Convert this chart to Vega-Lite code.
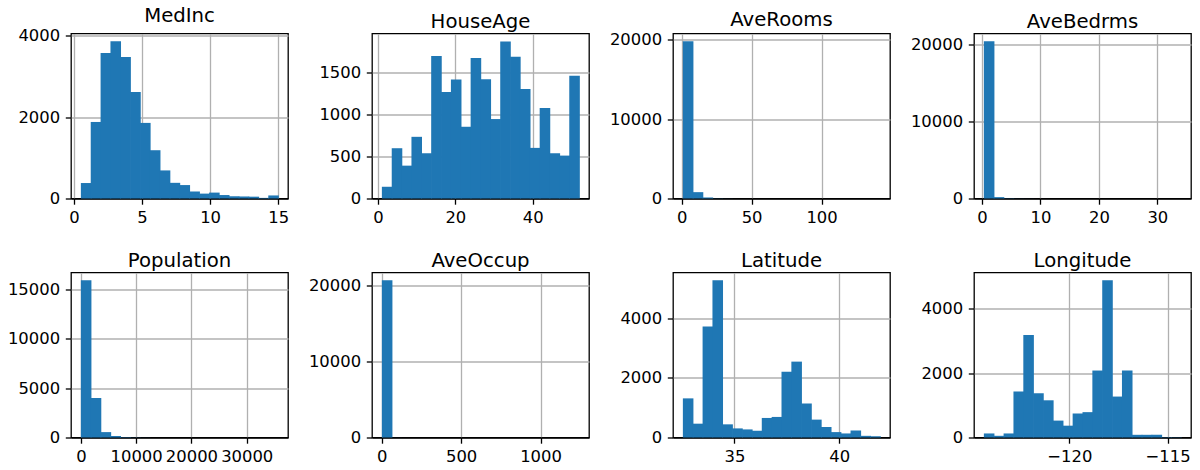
{
  "$schema": "https://vega.github.io/schema/vega-lite/v6.json",
  "padding": {"left": 6, "top": 5.5, "right": 0, "bottom": 0},
  "background": "white",
  "columns": 4,
  "spacing": {"row": 74, "column": 84},
  "bounds": "flush",
  "align": "all",
  "datasets": {
    "MedInc": [
      {"start": 0.4999, "end": 1.2249, "count": 380},
      {"start": 1.2249, "end": 1.9499, "count": 1880},
      {"start": 1.9499, "end": 2.6749, "count": 3575},
      {"start": 2.6749, "end": 3.3999, "count": 3860},
      {"start": 3.3999, "end": 4.1249, "count": 3477},
      {"start": 4.1249, "end": 4.85, "count": 2618},
      {"start": 4.85, "end": 5.575, "count": 1857},
      {"start": 5.575, "end": 6.3, "count": 1186},
      {"start": 6.3, "end": 7.025, "count": 690},
      {"start": 7.025, "end": 7.75, "count": 385},
      {"start": 7.75, "end": 8.475, "count": 330},
      {"start": 8.475, "end": 9.2, "count": 175},
      {"start": 9.2, "end": 9.925, "count": 120},
      {"start": 9.925, "end": 10.6501, "count": 145},
      {"start": 10.6501, "end": 11.3751, "count": 85},
      {"start": 11.3751, "end": 12.1001, "count": 55},
      {"start": 12.1001, "end": 12.8251, "count": 50},
      {"start": 12.8251, "end": 13.5501, "count": 45},
      {"start": 13.5501, "end": 14.2751, "count": 15},
      {"start": 14.2751, "end": 15.0001, "count": 75}
    ],
    "HouseAge": [
      {"start": 1, "end": 3.55, "count": 140},
      {"start": 3.55, "end": 6.1, "count": 600},
      {"start": 6.1, "end": 8.65, "count": 392},
      {"start": 8.65, "end": 11.2, "count": 736},
      {"start": 11.2, "end": 13.75, "count": 540},
      {"start": 13.75, "end": 16.3, "count": 1700},
      {"start": 16.3, "end": 18.85, "count": 1272},
      {"start": 18.85, "end": 21.4, "count": 1420},
      {"start": 21.4, "end": 23.95, "count": 856},
      {"start": 23.95, "end": 26.5, "count": 1676},
      {"start": 26.5, "end": 29.05, "count": 1424},
      {"start": 29.05, "end": 31.6, "count": 948},
      {"start": 31.6, "end": 34.15, "count": 1875},
      {"start": 34.15, "end": 36.7, "count": 1692},
      {"start": 36.7, "end": 39.25, "count": 1308},
      {"start": 39.25, "end": 41.8, "count": 604},
      {"start": 41.8, "end": 44.35, "count": 1080},
      {"start": 44.35, "end": 46.9, "count": 540},
      {"start": 46.9, "end": 49.45, "count": 512},
      {"start": 49.45, "end": 52, "count": 1464}
    ],
    "AveRooms": [
      {"start": 0.8462, "end": 7.8993, "count": 19800},
      {"start": 7.8993, "end": 14.9524, "count": 800},
      {"start": 14.9524, "end": 22.0056, "count": 130},
      {"start": 22.0056, "end": 29.0587, "count": 20},
      {"start": 29.0587, "end": 36.1119, "count": 8},
      {"start": 36.1119, "end": 43.165, "count": 4},
      {"start": 43.165, "end": 50.2182, "count": 3},
      {"start": 50.2182, "end": 57.2713, "count": 2},
      {"start": 57.2713, "end": 64.3245, "count": 1},
      {"start": 64.3245, "end": 71.3776, "count": 1},
      {"start": 71.3776, "end": 78.4308, "count": 0},
      {"start": 78.4308, "end": 85.4839, "count": 0},
      {"start": 85.4839, "end": 92.5371, "count": 0},
      {"start": 92.5371, "end": 99.5902, "count": 0},
      {"start": 99.5902, "end": 106.6434, "count": 1},
      {"start": 106.6434, "end": 113.6965, "count": 0},
      {"start": 113.6965, "end": 120.7497, "count": 0},
      {"start": 120.7497, "end": 127.8028, "count": 0},
      {"start": 127.8028, "end": 134.856, "count": 0},
      {"start": 134.856, "end": 141.9091, "count": 1}
    ],
    "AveBedrms": [
      {"start": 0.3333, "end": 2.02, "count": 20450},
      {"start": 2.02, "end": 3.7067, "count": 180},
      {"start": 3.7067, "end": 5.3933, "count": 30},
      {"start": 5.3933, "end": 7.08, "count": 10},
      {"start": 7.08, "end": 8.7667, "count": 5},
      {"start": 8.7667, "end": 10.4533, "count": 3},
      {"start": 10.4533, "end": 12.14, "count": 2},
      {"start": 12.14, "end": 13.8267, "count": 1},
      {"start": 13.8267, "end": 15.5133, "count": 1},
      {"start": 15.5133, "end": 17.2, "count": 0},
      {"start": 17.2, "end": 18.8867, "count": 1},
      {"start": 18.8867, "end": 20.5733, "count": 0},
      {"start": 20.5733, "end": 22.26, "count": 0},
      {"start": 22.26, "end": 23.9467, "count": 0},
      {"start": 23.9467, "end": 25.6333, "count": 0},
      {"start": 25.6333, "end": 27.32, "count": 1},
      {"start": 27.32, "end": 29.0067, "count": 0},
      {"start": 29.0067, "end": 30.6933, "count": 0},
      {"start": 30.6933, "end": 32.38, "count": 0},
      {"start": 32.38, "end": 34.0667, "count": 1}
    ],
    "Population": [
      {"start": 3, "end": 1786.95, "count": 15880},
      {"start": 1786.95, "end": 3570.9, "count": 3990},
      {"start": 3570.9, "end": 5354.85, "count": 545},
      {"start": 5354.85, "end": 7138.8, "count": 150},
      {"start": 7138.8, "end": 8922.75, "count": 40},
      {"start": 8922.75, "end": 10706.7, "count": 15},
      {"start": 10706.7, "end": 12490.65, "count": 6},
      {"start": 12490.65, "end": 14274.6, "count": 3},
      {"start": 14274.6, "end": 16058.55, "count": 2},
      {"start": 16058.55, "end": 17842.5, "count": 1},
      {"start": 17842.5, "end": 19626.45, "count": 0},
      {"start": 19626.45, "end": 21410.4, "count": 0},
      {"start": 21410.4, "end": 23194.35, "count": 0},
      {"start": 23194.35, "end": 24978.3, "count": 0},
      {"start": 24978.3, "end": 26762.25, "count": 1},
      {"start": 26762.25, "end": 28546.2, "count": 1},
      {"start": 28546.2, "end": 30330.15, "count": 0},
      {"start": 30330.15, "end": 32114.1, "count": 0},
      {"start": 32114.1, "end": 33898.05, "count": 0},
      {"start": 33898.05, "end": 35682, "count": 1}
    ],
    "AveOccup": [
      {"start": 0.6923, "end": 62.8244, "count": 20630},
      {"start": 62.8244, "end": 124.9564, "count": 5},
      {"start": 124.9564, "end": 187.0885, "count": 2},
      {"start": 187.0885, "end": 249.2205, "count": 0},
      {"start": 249.2205, "end": 311.3526, "count": 0},
      {"start": 311.3526, "end": 373.4846, "count": 0},
      {"start": 373.4846, "end": 435.6167, "count": 0},
      {"start": 435.6167, "end": 497.7487, "count": 0},
      {"start": 497.7487, "end": 559.8808, "count": 1},
      {"start": 559.8808, "end": 622.0128, "count": 1},
      {"start": 622.0128, "end": 684.1449, "count": 0},
      {"start": 684.1449, "end": 746.2769, "count": 0},
      {"start": 746.2769, "end": 808.409, "count": 0},
      {"start": 808.409, "end": 870.541, "count": 0},
      {"start": 870.541, "end": 932.6731, "count": 0},
      {"start": 932.6731, "end": 994.8051, "count": 0},
      {"start": 994.8051, "end": 1056.9372, "count": 0},
      {"start": 1056.9372, "end": 1119.0692, "count": 0},
      {"start": 1119.0692, "end": 1181.2013, "count": 0},
      {"start": 1181.2013, "end": 1243.3333, "count": 1}
    ],
    "Latitude": [
      {"start": 32.54, "end": 33.0105, "count": 1311},
      {"start": 33.0105, "end": 33.481, "count": 463},
      {"start": 33.481, "end": 33.9515, "count": 3718},
      {"start": 33.9515, "end": 34.422, "count": 5265},
      {"start": 34.422, "end": 34.8925, "count": 441},
      {"start": 34.8925, "end": 35.363, "count": 305},
      {"start": 35.363, "end": 35.8335, "count": 271},
      {"start": 35.8335, "end": 36.304, "count": 226},
      {"start": 36.304, "end": 36.7745, "count": 655},
      {"start": 36.7745, "end": 37.245, "count": 689},
      {"start": 37.245, "end": 37.7155, "count": 2203},
      {"start": 37.7155, "end": 38.186, "count": 2542},
      {"start": 38.186, "end": 38.6565, "count": 1141},
      {"start": 38.6565, "end": 39.127, "count": 599},
      {"start": 39.127, "end": 39.5975, "count": 350},
      {"start": 39.5975, "end": 40.068, "count": 181},
      {"start": 40.068, "end": 40.5385, "count": 136},
      {"start": 40.5385, "end": 41.009, "count": 237},
      {"start": 41.009, "end": 41.4795, "count": 56},
      {"start": 41.4795, "end": 41.95, "count": 45}
    ],
    "Longitude": [
      {"start": -124.35, "end": -123.848, "count": 126},
      {"start": -123.848, "end": -123.346, "count": 53},
      {"start": -123.346, "end": -122.844, "count": 126},
      {"start": -122.844, "end": -122.342, "count": 1432},
      {"start": -122.342, "end": -121.84, "count": 3189},
      {"start": -121.84, "end": -121.338, "count": 1379},
      {"start": -121.338, "end": -120.836, "count": 1158},
      {"start": -120.836, "end": -120.334, "count": 526},
      {"start": -120.334, "end": -119.832, "count": 368},
      {"start": -119.832, "end": -119.33, "count": 747},
      {"start": -119.33, "end": -118.828, "count": 789},
      {"start": -118.828, "end": -118.326, "count": 2084},
      {"start": -118.326, "end": -117.824, "count": 4890},
      {"start": -117.824, "end": -117.322, "count": 1274},
      {"start": -117.322, "end": -116.82, "count": 2084},
      {"start": -116.82, "end": -116.318, "count": 84},
      {"start": -116.318, "end": -115.816, "count": 84},
      {"start": -115.816, "end": -115.314, "count": 84},
      {"start": -115.314, "end": -114.812, "count": 10},
      {"start": -114.812, "end": -114.31, "count": 4}
    ]
  },
  "concat": [
    {
      "title": "MedInc", "width": 217, "height": 165,
      "data": {"name": "MedInc"},
      "mark": {"type": "bar", "orient": "vertical", "x2Offset": 0.7},
      "encoding": {
        "x": {"field": "start", "type": "quantitative", "scale": {"domain": [-0.2251, 15.7251], "nice": false, "zero": false, "padding": 0}, "axis": {"values": [0, 5, 10, 15], "format": "d", "title": null}},
        "x2": {"field": "end"},
        "y": {"field": "count", "type": "quantitative", "scale": {"domain": [0, 4053], "nice": false, "padding": 0}, "axis": {"values": [0, 2000, 4000], "format": "d", "title": null, "gridColor": {"condition": {"test": "datum.value === 0", "value": "#000000"}, "value": "#b0b0b0"}}}
      }
    },
    {
      "title": "HouseAge", "width": 217, "height": 165,
      "data": {"name": "HouseAge"},
      "mark": {"type": "bar", "orient": "vertical", "x2Offset": 0.7},
      "encoding": {
        "x": {"field": "start", "type": "quantitative", "scale": {"domain": [-1.55, 54.55], "nice": false, "zero": false, "padding": 0}, "axis": {"values": [0, 20, 40], "format": "d", "title": null}},
        "x2": {"field": "end"},
        "y": {"field": "count", "type": "quantitative", "scale": {"domain": [0, 1969], "nice": false, "padding": 0}, "axis": {"values": [0, 500, 1000, 1500], "format": "d", "title": null, "gridColor": {"condition": {"test": "datum.value === 0", "value": "#000000"}, "value": "#b0b0b0"}}}
      }
    },
    {
      "title": "AveRooms", "width": 217, "height": 165,
      "data": {"name": "AveRooms"},
      "mark": {"type": "bar", "orient": "vertical", "x2Offset": 0.7},
      "encoding": {
        "x": {"field": "start", "type": "quantitative", "scale": {"domain": [-6.207, 148.962], "nice": false, "zero": false, "padding": 0}, "axis": {"values": [0, 50, 100], "format": "d", "title": null}},
        "x2": {"field": "end"},
        "y": {"field": "count", "type": "quantitative", "scale": {"domain": [0, 20790], "nice": false, "padding": 0}, "axis": {"values": [0, 10000, 20000], "format": "d", "title": null, "gridColor": {"condition": {"test": "datum.value === 0", "value": "#000000"}, "value": "#b0b0b0"}}}
      }
    },
    {
      "title": "AveBedrms", "width": 217, "height": 165,
      "data": {"name": "AveBedrms"},
      "mark": {"type": "bar", "orient": "vertical", "x2Offset": 0.7},
      "encoding": {
        "x": {"field": "start", "type": "quantitative", "scale": {"domain": [-1.3533, 35.7533], "nice": false, "zero": false, "padding": 0}, "axis": {"values": [0, 10, 20, 30], "format": "d", "title": null}},
        "x2": {"field": "end"},
        "y": {"field": "count", "type": "quantitative", "scale": {"domain": [0, 21473], "nice": false, "padding": 0}, "axis": {"values": [0, 10000, 20000], "format": "d", "title": null, "gridColor": {"condition": {"test": "datum.value === 0", "value": "#000000"}, "value": "#b0b0b0"}}}
      }
    },
    {
      "title": "Population", "width": 217, "height": 165,
      "data": {"name": "Population"},
      "mark": {"type": "bar", "orient": "vertical", "x2Offset": 0.7},
      "encoding": {
        "x": {"field": "start", "type": "quantitative", "scale": {"domain": [-1780.95, 37465.95], "nice": false, "zero": false, "padding": 0}, "axis": {"values": [0, 10000, 20000, 30000], "format": "d", "title": null}},
        "x2": {"field": "end"},
        "y": {"field": "count", "type": "quantitative", "scale": {"domain": [0, 16674], "nice": false, "padding": 0}, "axis": {"values": [0, 5000, 10000, 15000], "format": "d", "title": null, "gridColor": {"condition": {"test": "datum.value === 0", "value": "#000000"}, "value": "#b0b0b0"}}}
      }
    },
    {
      "title": "AveOccup", "width": 217, "height": 165,
      "data": {"name": "AveOccup"},
      "mark": {"type": "bar", "orient": "vertical", "x2Offset": 0.7},
      "encoding": {
        "x": {"field": "start", "type": "quantitative", "scale": {"domain": [-61.44, 1305.465], "nice": false, "zero": false, "padding": 0}, "axis": {"values": [0, 500, 1000], "format": "d", "title": null}},
        "x2": {"field": "end"},
        "y": {"field": "count", "type": "quantitative", "scale": {"domain": [0, 21662], "nice": false, "padding": 0}, "axis": {"values": [0, 10000, 20000], "format": "d", "title": null, "gridColor": {"condition": {"test": "datum.value === 0", "value": "#000000"}, "value": "#b0b0b0"}}}
      }
    },
    {
      "title": "Latitude", "width": 217, "height": 165,
      "data": {"name": "Latitude"},
      "mark": {"type": "bar", "orient": "vertical", "x2Offset": 0.7},
      "encoding": {
        "x": {"field": "start", "type": "quantitative", "scale": {"domain": [32.0695, 42.4205], "nice": false, "zero": false, "padding": 0}, "axis": {"values": [35, 40], "format": "d", "title": null}},
        "x2": {"field": "end"},
        "y": {"field": "count", "type": "quantitative", "scale": {"domain": [0, 5528], "nice": false, "padding": 0}, "axis": {"values": [0, 2000, 4000], "format": "d", "title": null, "gridColor": {"condition": {"test": "datum.value === 0", "value": "#000000"}, "value": "#b0b0b0"}}}
      }
    },
    {
      "title": "Longitude", "width": 217, "height": 165,
      "data": {"name": "Longitude"},
      "mark": {"type": "bar", "orient": "vertical", "x2Offset": 0.7},
      "encoding": {
        "x": {"field": "start", "type": "quantitative", "scale": {"domain": [-124.852, -113.808], "nice": false, "zero": false, "padding": 0}, "axis": {"values": [-120, -115], "format": "d", "title": null}},
        "x2": {"field": "end"},
        "y": {"field": "count", "type": "quantitative", "scale": {"domain": [0, 5135], "nice": false, "padding": 0}, "axis": {"values": [0, 2000, 4000], "format": "d", "title": null, "gridColor": {"condition": {"test": "datum.value === 0", "value": "#000000"}, "value": "#b0b0b0"}}}
      }
    }
  ],
  "config": {
    "font": "DejaVu Sans",
    "view": {"stroke": "#000000", "strokeWidth": 1.3},
    "bar": {"color": "#1f77b4", "binSpacing": 0},
    "scale": {"continuousPadding": 0},
    "axis": {
      "domain": false,
      "grid": true,
      "gridColor": "#b0b0b0",
      "gridWidth": 1.3,
      "gridOpacity": 1,
      "ticks": true,
      "tickColor": "#000000",
      "tickWidth": 1.3,
      "tickSize": 5.7,
      "labelFont": "DejaVu Sans",
      "labelFontSize": 16.4,
      "labelColor": "#000000",
      "labelPadding": 5.7,
      "labelFlush": false,
      "labelOverlap": false,
      "labelBound": false,
      "zindex": 1
    },
    "title": {
      "font": "DejaVu Sans",
      "fontSize": 19.7,
      "fontWeight": "normal",
      "color": "#000000",
      "anchor": "middle",
      "frame": "group",
      "baseline": "alphabetic",
      "offset": 1.8
    }
  }
}
